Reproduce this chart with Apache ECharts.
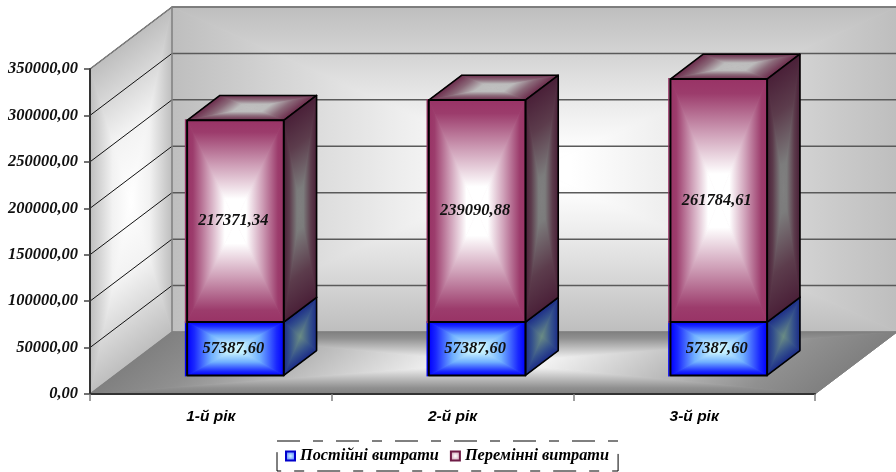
<!DOCTYPE html>
<html>
<head>
<meta charset="utf-8">
<style>html,body{margin:0;padding:0;background:#fff}#chart{width:896px;height:472px}</style>
<script src="https://cdn.jsdelivr.net/npm/echarts@6/dist/echarts.min.js"></script>
</head>
<body>
<div id="chart"></div>
<script>
// Annual costs, stacked by type
var categories = ['1-й рік', '2-й рік', '3-й рік'];
var fixedCosts = [57387.60, 57387.60, 57387.60];
var variableCosts = [217371.34, 239090.88, 261784.61];
var axisTicks = [0, 50000, 100000, 150000, 200000, 250000, 300000, 350000];
var fixedName = 'Постійні витрати';
var variableName = 'Перемінні витрати';

// Oblique projection of the chart box
var DEPTH_X = 82, DEPTH_Y = -62;
var BAR_DEPTH = 0.4;      // share of the box depth taken by a bar
var BAR_WIDTH = 0.4;      // share of a category band taken by a bar

var SERIF = '"Liberation Serif"';
var serifFont = 'italic bold 16.5px ' + SERIF;

function comma(v) { return v.toFixed(2).replace('.', ','); }

function stops(list) {
  return list.map(function (s) { return { offset: s[0], color: s[1] }; });
}

// Rectangular-path gradient: one triangle per edge, shaded from the edge to the centre
function shadedFace(corners, colorStops, midColor) {
  var cx = 0, cy = 0;
  corners.forEach(function (p) { cx += p[0] / 4; cy += p[1] / 4; });
  var out = [{ type: 'polygon', shape: { points: corners }, style: { fill: midColor } }];
  for (var i = 0; i < 4; i++) {
    var a = corners[i], b = corners[(i + 1) % 4];
    var ex = b[0] - a[0], ey = b[1] - a[1];
    var t = ((cx - a[0]) * ex + (cy - a[1]) * ey) / (ex * ex + ey * ey);
    var paint = {
      type: 'linear', global: true,
      x: a[0] + t * ex, y: a[1] + t * ey, x2: cx, y2: cy,
      colorStops: stops(colorStops)
    };
    out.push({
      type: 'polygon',
      shape: { points: [a, b, [cx, cy]] },
      style: { fill: paint, stroke: paint, lineWidth: 0.8 }
    });
  }
  return out;
}

function outline(corners, width) {
  return {
    type: 'polygon', shape: { points: corners },
    style: { fill: 'none', stroke: '#000', lineWidth: width, lineJoin: 'round' }
  };
}

var palette = {
  fixed: {
    edge: '#0000ff',
    front: [[0, '#0000ff'], [0.15, '#1a28ff'], [0.5, '#70b0ff'], [0.85, '#c4f0ff'], [1, '#ccf4ff']], frontMid: '#5a80ff',
    side: [[0, '#1c2c88'], [0.4, '#34508c'], [1, '#6a8c84']], sideMid: '#405c8c',
    top: [[0, '#1c2c88'], [1, '#6a8c84']], topMid: '#405c8c'
  },
  variable: {
    edge: '#993366',
    front: [[0, '#993366'], [0.12, '#9c3c6c'], [0.45, '#cfa0b8'], [0.78, '#ffffff'], [1, '#ffffff']], frontMid: '#c48aa6',
    side: [[0, '#4a2038'], [0.35, '#5c3c4c'], [0.8, '#7c7c7c'], [1, '#808080']], sideMid: '#644a58',
    top: [[0, '#6c2c4c'], [0.35, '#8a6878'], [0.7, '#bcbcbc'], [1, '#c0c0c0']], topMid: '#8c6a7c'
  }
};

// One stacked block: front, top and side faces plus the value label
function renderBlock(kind) {
  return function (params, api) {
    var cat = api.value(0), low = api.value(1), high = api.value(2);
    var band = api.size([1, 0])[0];
    var dx = DEPTH_X * BAR_DEPTH, dy = DEPTH_Y * BAR_DEPTH;
    var ox = (DEPTH_X - dx) / 2, oy = (DEPTH_Y - dy) / 2;
    var c0 = api.coord([cat, low]), c1 = api.coord([cat, high]);
    var half = band * BAR_WIDTH / 2;
    var l = c0[0] - half + ox, r = c0[0] + half + ox;
    var b = c0[1] + oy, t = c1[1] + oy;
    var pal = palette[kind];
    var front = [[l, t], [r, t], [r, b], [l, b]];
    var side = [[r, t], [r + dx, t + dy], [r + dx, b + dy], [r, b]];
    var top = [[l, t], [l + dx, t + dy], [r + dx, t + dy], [r, t]];
    var children = [].concat(
      shadedFace(top, pal.top, pal.topMid), [outline(top, 1.6)],
      shadedFace(side, pal.side, pal.sideMid), [outline(side, 1.6)],
      [{ type: 'line', shape: { x1: l - 1.5, y1: t - 1, x2: l - 1.5, y2: b + 1 }, style: { stroke: pal.edge, lineWidth: 1.5 } }],
      shadedFace(front, pal.front, pal.frontMid), [outline(front, 2)]
    );
    children.push({
      type: 'text',
      style: {
        text: comma(high - low), x: (l + r) / 2 - 2, y: (t + b) / 2,
        align: 'center', verticalAlign: 'middle', font: serifFont, fill: '#111'
      }
    });
    return { type: 'group', children: children };
  };
}

// Walls and floor of the box, spanning the whole plot area
function renderBox(params, api) {
  var g = params.coordSys;
  var L = g.x, R = g.x + g.width, T = g.y, B = g.y + g.height;
  var dx = DEPTH_X, dy = DEPTH_Y;
  var back = [[L + dx, T + dy], [R + dx, T + dy], [R + dx, B + dy], [L + dx, B + dy]];
  var left = [[L, T], [L + dx, T + dy], [L + dx, B + dy], [L, B]];
  var floor = [[L, B], [L + dx, B + dy], [R + dx, B + dy], [R, B]];
  var wallStops = [[0, '#bebebe'], [0.65, '#efefef'], [0.9, '#ffffff'], [1, '#ffffff']];
  var sideStops = [[0, '#bebebe'], [0.55, '#f2f2f2'], [1, '#ffffff']];
  var floorStops = [[0, '#808080'], [0.2, '#909090'], [0.9, '#f8f8f8'], [1, '#ffffff']];
  var children = [].concat(
    shadedFace(back, wallStops, '#dddddd'),
    shadedFace(left, sideStops, '#e4e4e4'),
    shadedFace(floor, floorStops, '#b4b4b4')
  );
  axisTicks.forEach(function (v) {
    if (v === 0) return;
    var y = api.coord([0, v])[1];
    children.push({
      type: 'line', shape: { x1: L, y1: y, x2: L + dx, y2: y + dy },
      style: { stroke: '#111', lineWidth: 1 }
    });
    children.push({
      type: 'line', shape: { x1: L + dx, y1: y + dy, x2: R + dx, y2: y + dy },
      style: { stroke: '#5a5a5a', lineWidth: 1.5 }
    });
  });
  var edge = { stroke: '#808080', lineWidth: 1.5, fill: 'none' };
  children.push({ type: 'polyline', shape: { points: [[L, B], [L + dx, B + dy], [L + dx, T + dy], [R + dx, T + dy]] }, style: edge });
  children.push({ type: 'line', shape: { x1: L, y1: T, x2: L + dx, y2: T + dy }, style: edge });
  children.push({ type: 'line', shape: { x1: L + dx, y1: B + dy, x2: R + dx, y2: B + dy }, style: edge });
  children.push({ type: 'line', shape: { x1: R, y1: B, x2: R + dx, y2: B + dy }, style: { stroke: '#808080', lineWidth: 1 } });
  return { type: 'group', children: children };
}

var fixedData = categories.map(function (c, i) { return [i, 0, fixedCosts[i]]; });
var variableData = categories.map(function (c, i) {
  return [i, fixedCosts[i], fixedCosts[i] + variableCosts[i]];
});

var chart = echarts.init(document.getElementById('chart'), null, { renderer: 'canvas' });
chart.setOption({
  animation: false,
  backgroundColor: '#fff',
  grid: { left: 90, top: 69, width: 725, height: 325 },
  xAxis: {
    type: 'category', data: categories, z: 5,
    axisLine: { lineStyle: { color: '#333', width: 2 } },
    axisTick: { show: true, length: 7, alignWithLabel: false, lineStyle: { color: '#808080', width: 1.5 } },
    axisLabel: { margin: 15, color: '#000', fontStyle: 'italic', fontWeight: 'bold', fontSize: 15.5, fontFamily: 'Liberation Sans' },
    splitLine: { show: false }
  },
  yAxis: {
    type: 'value', min: 0, max: 350000, interval: 50000, z: 5,
    axisLine: { show: true, lineStyle: { color: '#333', width: 2 } },
    axisTick: { show: true, length: 6, lineStyle: { color: '#444', width: 1.5 } },
    axisLabel: { margin: 12, color: '#111', fontStyle: 'italic', fontWeight: 'bold', fontSize: 16.5, fontFamily: 'Liberation Serif',
      formatter: function (v) { return comma(v); } },
    splitLine: { show: false }
  },
  legend: {
    left: 277, top: 441, padding: [7, 9, 7, 8],
    itemWidth: 9, itemHeight: 9, itemGap: 11,
    borderColor: '#000', borderWidth: 1, borderType: [23, 13, 10, 13],
    textStyle: { fontStyle: 'italic', fontWeight: 'bold', fontSize: 16.3, fontFamily: 'Liberation Serif', color: '#000' },
    selectedMode: false,
    data: [
      { name: fixedName, icon: 'rect', itemStyle: { borderColor: '#0000cc', borderWidth: 2,
        color: { type: 'radial', x: 0.5, y: 0.5, r: 0.6, colorStops: stops([[0, '#ccf4ff'], [1, '#3a60ff']]) } } },
      { name: variableName, icon: 'rect', itemStyle: { borderColor: '#6e1c46', borderWidth: 2,
        color: { type: 'radial', x: 0.5, y: 0.5, r: 0.6, colorStops: stops([[0, '#ffffff'], [1, '#c48aa6']]) } } }
    ]
  },
  series: [
    { type: 'custom', name: 'box', z: 1, silent: true, clip: false, renderItem: renderBox, data: [[0, 0]] },
    { type: 'custom', name: fixedName, z: 6, clip: false, renderItem: renderBlock('fixed'), data: fixedData,
      encode: { x: 0, y: [1, 2] }, itemStyle: { color: '#0000ff' } },
    { type: 'custom', name: variableName, z: 7, clip: false, renderItem: renderBlock('variable'), data: variableData,
      encode: { x: 0, y: [1, 2] }, itemStyle: { color: '#993366' } }
  ]
});
</script>
</body>
</html>
